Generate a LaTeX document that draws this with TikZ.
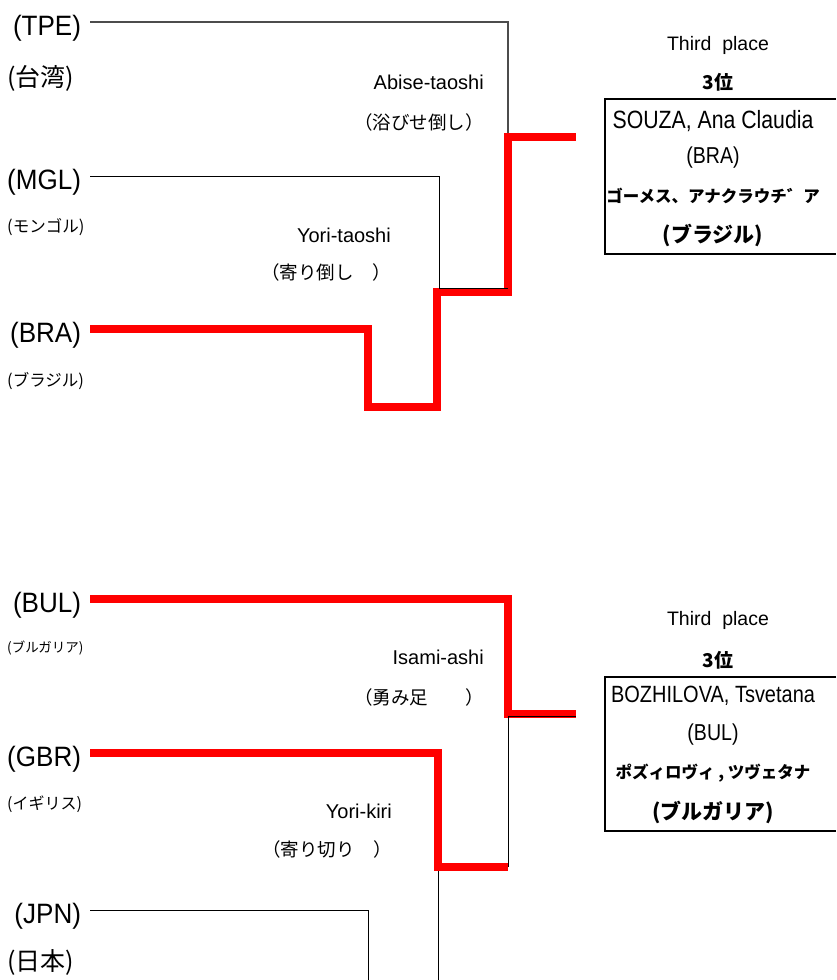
\documentclass[tikz,border=0pt]{standalone}
\usepackage{fontspec}
\setmainfont{Liberation Sans}
\newfontfamily\narrowfont[FakeStretch=0.85]{Liberation Sans}
\newfontfamily\codefont[FakeStretch=0.93]{Liberation Sans}
\newfontfamily\jpfont{Noto Sans CJK JP}
\usetikzlibrary{positioning}
\newcommand{\fsize}[1]{\fontsize{#1}{#1}\selectfont}
\tikzset{
    team/.style={anchor=east, inner sep=0pt, outer xsep=9pt, text height=32pt, text depth=6pt, font=\codefont\fsize{28}}, % country code at the start of a line
    country/.style={anchor=west, inner sep=0pt, font=\jpfont\fsize{#1}}, % country name in Japanese, size as argument
    kimarite/.style={anchor=east, inner sep=0pt, font=\fsize{20}}, % winning technique
    kanji/.style={anchor=east, inner sep=0pt, font=\jpfont\fsize{18.5}}, % the same technique in Japanese
    bout/.style={line width=1pt}, % plain bracket line
    win/.style={line width=8pt, red}, % path of the winner
    medal/.style={inner sep=0pt, font=\fsize{19.5}},
    frame/.style={minimum width=231pt, minimum height=155pt, inner sep=0pt}, % box of the medallist, open to the right
    namebox/.style={inner sep=0pt, font=\narrowfont\fsize{#1}},
    jpbold/.style={inner sep=0pt, font=\jpfont\bfseries\fsize{#1}},
    }

\begin{document}
\begin{tikzpicture}[x=1pt, y=-1pt]
    \useasboundingbox (0,0) rectangle (836,980);

    % upper block
    \node[team] at (90,22) (TPE) {(TPE)};
    \node[country=25] at (7,78) (TPEjp) {(台湾)};
    \node[team] at (90,176) (MGL) {(MGL)};
    \node[country=16.5] at (7,227) (MGLjp) {(モンゴル)};
    \node[team] at (90,329) (BRA) {(BRA)};
    \node[country=16.5] at (7,381) (BRAjp) {(ブラジル)};

    \node[kimarite] at (484,82) (abise) {Abise-taoshi};
    \node[kanji] at ([yshift=-40pt]abise.east) (abisejp) {（浴びせ倒し）};
    \node[kimarite] at (391,235) (yoritaoshi) {Yori-taoshi};
    \node[kanji] at ([yshift=-37pt]yoritaoshi.east) (yoritaoshijp) {（寄り倒し　）};

    \coordinate (dip1) at (368,407);
    \coordinate (sf1) at (437,292);
    \coordinate (qf1) at (508,137);
    \coordinate (out1) at (576,137);

    \draw[bout, line width=1.5pt, black!70] (TPE.east) -| (qf1);
    \draw[win] (BRA.east) -| (dip1) -| (sf1) -| (qf1) -- (out1);
    \draw[bout] (MGL.east) -| ([xshift=2pt,yshift=4pt]sf1) -- ([yshift=4pt]sf1 -| qf1);

    \node[frame] at (720.5,176.5) (box1) {};
    \draw[line width=2pt] (box1.north east) -- (box1.north west) -- (box1.south west) -- (box1.south east);
    \node[medal] at (718,45) (third1) {Third\ \ place};
    \node[jpbold=19] at ([yshift=-37pt]third1) (rank1) {3位};
    \node[namebox=25] at (713,121) (name1) {SOUZA, Ana Claudia};
    \node[namebox=23] at ([yshift=-37pt]name1) (noc1) {(BRA)};
    \node[jpbold=16.5] at ([yshift=-38pt]noc1) (kana1) {ゴーメス、アナクラウチ゛ア};
    \node[jpbold=21] at ([yshift=-39pt]kana1) (nation1) {(ブラジル)};

    % lower block
    \node[team] at (90,599) (BUL) {(BUL)};
    \node[country=13.5] at (7,648) (BULjp) {(ブルガリア)};
    \node[team] at (90,753) (GBR) {(GBR)};
    \node[country=16] at (7,804) (GBRjp) {(イギリス)};
    \node[team] at (90,910) (JPN) {(JPN)};
    \node[country=25] at (7,962) (JPNjp) {(日本)};

    \node[kimarite] at (484,657) (isami) {Isami-ashi};
    \node[kanji] at ([yshift=-40pt]isami.east) (isamijp) {（勇み足　　）};
    \node[kimarite] at (392,811) (yorikiri) {Yori-kiri};
    \node[kanji] at ([yshift=-38pt]yorikiri.east) (yorikirijp) {（寄り切り　）};

    \coordinate (sf2) at (438,867);
    \coordinate (qf2) at (508,714);
    \coordinate (out2) at (576,714);
    \coordinate (jpncut) at (368,980);
    \coordinate (nextcut) at (438,980);

    \draw[bout] (JPN.east) -| (jpncut);
    \draw[bout] ([yshift=-4pt]sf2) -- (nextcut);
    \draw[win] (BUL.east) -| (qf2) -- (out2);
    \draw[win] (GBR.east) -| (sf2) -- (sf2 -| qf2);
    \draw[bout] (sf2 -| qf2) |- ([yshift=-2pt]out2);

    \node[frame, minimum height=154pt] at (720.5,754) (box2) {};
    \draw[line width=2pt] (box2.north east) -- (box2.north west) -- (box2.south west) -- (box2.south east);
    \node[medal] at (718,620) (third2) {Third\ \ place};
    \node[jpbold=19] at ([yshift=-40pt]third2) (rank2) {3位};
    \node[namebox=23.5] at (713,696) (name2) {BOZHILOVA, Tsvetana};
    \node[namebox=23] at ([yshift=-39pt]name2) (noc2) {(BUL)};
    \node[jpbold=16.5] at ([yshift=-38pt]noc2) (kana2) {ポズィロヴィ , ツヴェタナ};
    \node[jpbold=21] at ([yshift=-39pt]kana2) (nation2) {(ブルガリア)};
\end{tikzpicture}
\end{document}
